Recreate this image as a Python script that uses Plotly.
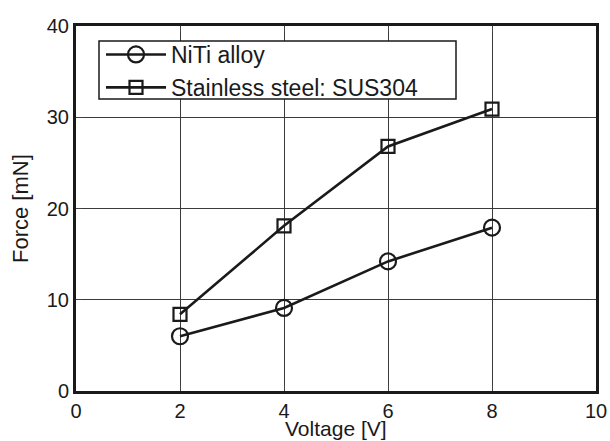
import plotly.graph_objects as go

voltage = [2, 4, 6, 8]
force_niti = [6.0, 9.1, 14.2, 17.9]
force_sus304 = [8.4, 18.1, 26.8, 30.9]

names = ["NiTi alloy", "Stainless steel: SUS304"]
x_ticks = [0, 2, 4, 6, 8, 10]
y_ticks = [0, 10, 20, 30, 40]
x_title = "Voltage [V]"
y_title = "Force [mN]"

font_family = "Liberation Sans, Arial, Helvetica, sans-serif"
ink = "#1a1a1a"

W, H = 610, 441
M_L, M_R, M_T, M_B = 76, 14, 26, 50
plot_h = H - M_T - M_B
plot_w = W - M_L - M_R


def px_x(p):
    """Pixel column -> paper x."""
    return (p - M_L) / plot_w


def px_y(p):
    """Pixel row -> paper y."""
    return (H - M_B - p) / plot_h


fig = go.Figure()
fig.add_trace(go.Scatter(
    x=voltage, y=force_niti, name=names[0], mode="lines+markers",
    line=dict(color=ink, width=2.6),
    marker=dict(symbol="circle-open", size=16, color=ink, line=dict(width=2.2)),
))
fig.add_trace(go.Scatter(
    x=voltage, y=force_sus304, name=names[1], mode="lines+markers",
    line=dict(color=ink, width=2.6),
    marker=dict(symbol="square-open", size=13, color=ink, line=dict(width=2.2)),
))

axis_common = dict(
    showline=True, linecolor=ink, linewidth=3, mirror="ticks",
    ticks="inside", ticklen=6, tickwidth=1.3, tickcolor="#444444",
    showgrid=True, gridcolor="#3a3a3a", gridwidth=1,
    zeroline=False, automargin=False,
    tickfont=dict(size=20, color=ink, family=font_family),
)

fig.update_xaxes(range=[0, 10], tickvals=x_ticks,
                 ticktext=[str(v) for v in x_ticks], **axis_common)
fig.update_yaxes(range=[0, 40], tickvals=y_ticks,
                 ticktext=[str(v) for v in y_ticks], **axis_common)

# axis titles placed as annotations for precise positioning
fig.add_annotation(
    text=x_title, xref="paper", yref="paper",
    x=0.5, y=px_y(428.5), xanchor="center", yanchor="middle",
    showarrow=False, font=dict(size=21, color=ink, family=font_family),
)
fig.add_annotation(
    text=y_title, xref="paper", yref="paper", textangle=-90,
    x=px_x(20.5), y=0.5, xanchor="center", yanchor="middle",
    showarrow=False, font=dict(size=22, color=ink, family=font_family),
)

# legend frame: white box with a black border, covering the grid behind it
fig.add_shape(
    type="rect", xref="paper", yref="paper", layer="above",
    x0=px_x(99), x1=px_x(456), y0=px_y(99), y1=px_y(41),
    fillcolor="white", line=dict(color=ink, width=1.5),
)

fig.update_layout(
    width=W, height=H,
    margin=dict(l=M_L, r=M_R, t=M_T, b=M_B),
    paper_bgcolor="white", plot_bgcolor="white",
    font=dict(family=font_family, color=ink),
    showlegend=True,
    legend=dict(
        x=px_x(101), y=px_y(33),
        xanchor="left", yanchor="top",
        bgcolor="rgba(0,0,0,0)", borderwidth=0,
        font=dict(size=23, color=ink, family=font_family),
        tracegroupgap=0, itemwidth=60,
    ),
)

fig.write_html("out.html")
